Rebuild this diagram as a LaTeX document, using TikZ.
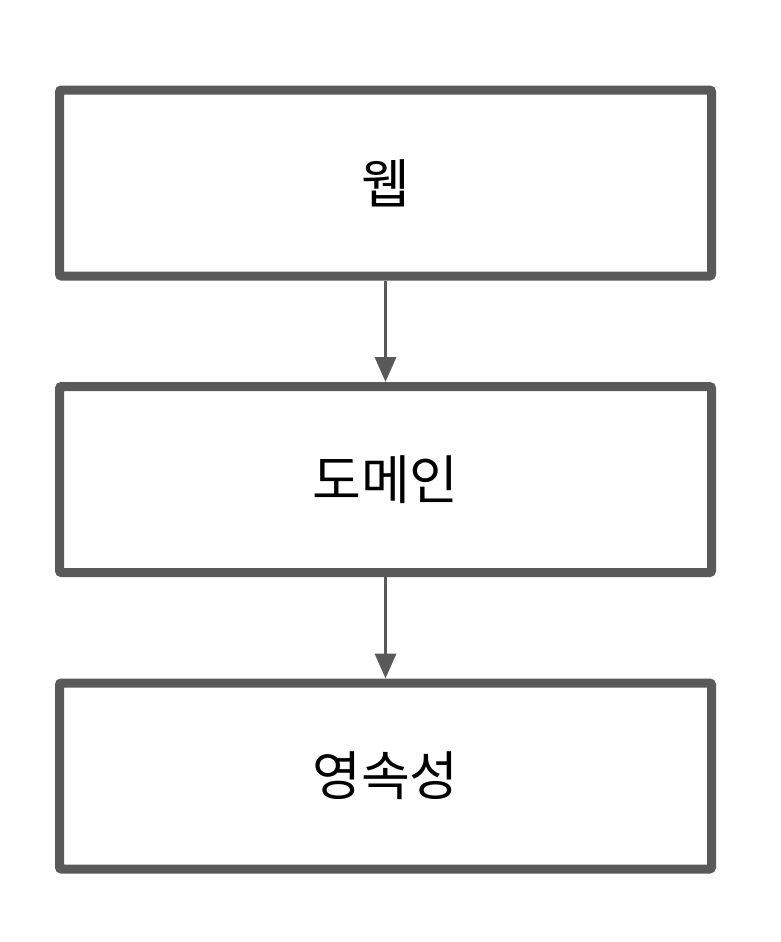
\documentclass[tikz,border=0pt]{standalone}
\usepackage{fontspec}
\setmainfont{Noto Sans CJK KR}
\usetikzlibrary{arrows.meta,positioning}
\definecolor{frame}{HTML}{595959}
\tikzset{
  layer/.style={
    draw=frame, line width=9pt, rounded corners=2pt, fill=white,
    minimum width=652pt, minimum height=186pt,
    align=center, font=\fontsize{53}{60}\selectfont
  },
  arrow/.style={-{Triangle[length=25pt, width=21pt]}, line width=3.5pt, draw=frame}
}
\begin{document}
\begin{tikzpicture}[node distance=101.5pt]
        \useasboundingbox (0,0) rectangle (780pt,-942pt);
        \node[layer] (web) at (385.5pt,-183pt) {웹};
        \node[layer, below=of web] (domain) {도메인};
        \node[layer, below=of domain] (persist) {영속성};
        \draw[arrow] (web) -- (domain);
        \draw[arrow] (domain) -- (persist);
      \end{tikzpicture}
\end{document}
